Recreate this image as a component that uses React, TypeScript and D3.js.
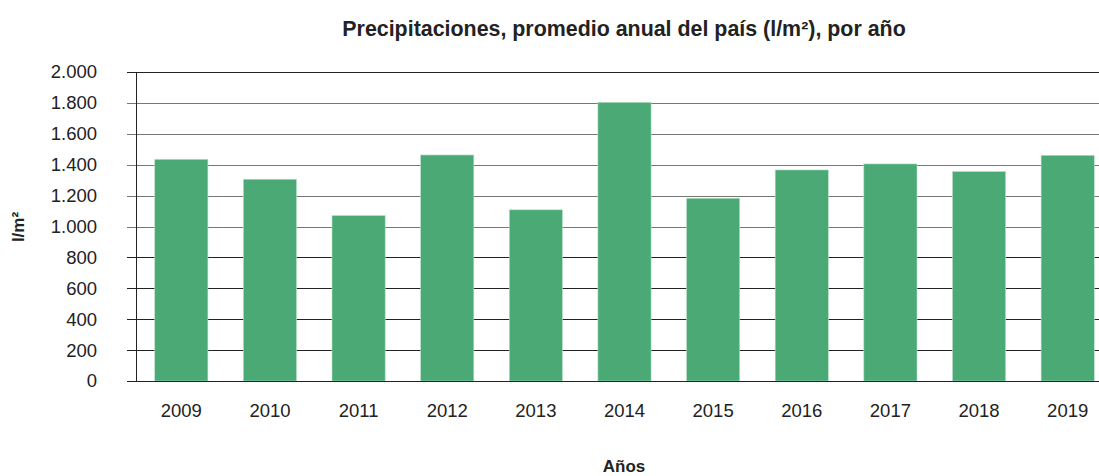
import React from 'react';
import * as d3 from 'd3';

// datos
const years = ['2009', '2010', '2011', '2012', '2013', '2014', '2015', '2016', '2017', '2018', '2019'];
const rainfall = [1435, 1306, 1071, 1463, 1108, 1804, 1183, 1366, 1405, 1356, 1461];
const yTicks = [0, 200, 400, 600, 800, 1000, 1200, 1400, 1600, 1800, 2000];

const W = 1099;
const H = 476;
const left = 137;
const right = 1112;
const top = 72;
const bottom = 381;

export default function App() {
  const x = d3.scaleBand().domain(years).range([left, right]).paddingInner(0.4).paddingOuter(0.2);
  const y = d3.scaleLinear().domain([0, 2000]).range([bottom, top]);
  const fmt = (v: number) => d3.format(',')(v).replace(/,/g, '.');
  const font = 'Liberation Sans, Arial, sans-serif';

  return (
    <svg width={W} height={H} style={{ position: 'absolute', left: 0, top: 0 }} fontFamily={font}>
      <rect width={W} height={H} fill="#fff" />
      <text x={624} y={36} textAnchor="middle" fontSize={21.4} fontWeight="bold" fill="#222">
        Precipitaciones, promedio anual del país (l/m²), por año
      </text>
      {yTicks.map((t) => (
        <g key={t}>
          <line x1={127} x2={W} y1={Math.round(y(t)) + 0.5} y2={Math.round(y(t)) + 0.5} stroke={t >= 1000 && t < 2000 ? '#777' : '#222'} strokeWidth={1} />
          <text x={97} y={y(t)} dy="0.35em" textAnchor="end" fontSize={18.5} fill="#222">
            {fmt(t)}
          </text>
        </g>
      ))}
      {years.map((yr, i) => (
        <rect
          key={yr}
          x={x(yr)}
          y={y(rainfall[i])}
          width={x.bandwidth()}
          height={bottom - y(rainfall[i])}
          fill="#4aa975"
          stroke="#b9e2c8"
          strokeWidth={0.6}
        />
      ))}
      <line x1={left - 0.5} x2={left - 0.5} y1={top} y2={bottom + 1} stroke="#222" />
      <line x1={127} x2={W} y1={Math.round(bottom) + 0.5} y2={Math.round(bottom) + 0.5} stroke="#222" />
      {years.map((yr) => (
        <text key={yr} x={(x(yr) as number) + x.bandwidth() / 2} y={417} textAnchor="middle" fontSize={18.5} fill="#222">
          {yr}
        </text>
      ))}
      <text x={624} y={472} textAnchor="middle" fontSize={17} fontWeight="bold" fill="#222">
        Años
      </text>
      <text transform="translate(24,227) rotate(-90)" textAnchor="middle" fontSize={17} fontWeight="bold" fill="#222">
        l/m²
      </text>
    </svg>
  );
}
